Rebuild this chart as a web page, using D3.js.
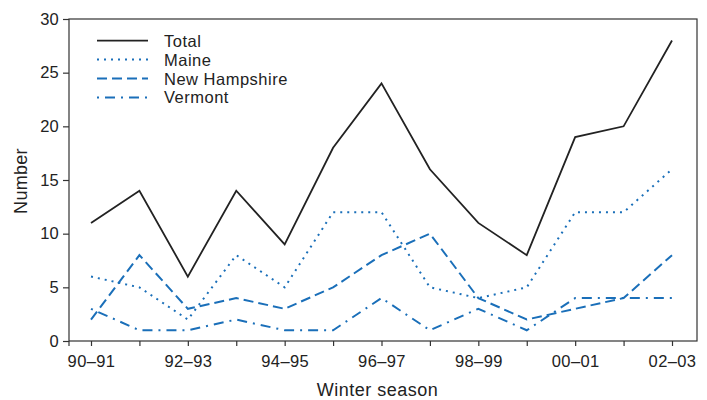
<!DOCTYPE html>
<html>
<head>
<meta charset="utf-8">
<script src="https://cdn.jsdelivr.net/npm/d3@7/dist/d3.min.js"></script>
<style>
  html, body { margin: 0; padding: 0; background: #fff; }
  svg { display: block; font-family: "Liberation Sans", Arial, sans-serif; }
</style>
</head>
<body>
<svg id="chart" width="707" height="400"></svg>
<script>
// Winter seasons, 1990–91 through 2002–03
const seasons = ["90–91", "91–92", "92–93", "93–94", "94–95", "95–96", "96–97",
                 "97–98", "98–99", "99–00", "00–01", "01–02", "02–03"];
const tickLabels = ["90–91", "92–93", "94–95", "96–97", "98–99", "00–01", "02–03"];
const yTicks = [0, 5, 10, 15, 20, 25, 30];

const total         = [11, 14, 6, 14, 9, 18, 24, 16, 11, 8, 19, 20, 28];
const maine         = [6, 5, 2, 8, 5, 12, 12, 5, 4, 5, 12, 12, 16];
const newHampshire  = [2, 8, 3, 4, 3, 5, 8, 10, 4, 2, 3, 4, 8];
const vermont       = [3, 1, 1, 2, 1, 1, 4, 1, 3, 1, 4, 4, 4];

const blue = "#1a6fb9";
const series = [
  { name: "Total",         values: total,        color: "#222", width: 1.8, dash: null },
  { name: "Maine",         values: maine,        color: blue,   width: 2,   dash: "2,5" },
  { name: "New Hampshire", values: newHampshire, color: blue,   width: 2,   dash: "10,5" },
  { name: "Vermont",       values: vermont,      color: blue,   width: 2,   dash: "2,6,10,6" }
];

const svg = d3.select("#chart");
const plot = { left: 69, right: 697, top: 19, bottom: 341 };

const x = d3.scalePoint().domain(seasons).range([plot.left + 22, plot.right - 25]);
const y = d3.scaleLinear().domain([0, 30]).range([plot.bottom, plot.top]);

const axisColor = "#333";
const textColor = "#222";

// Frame around the plot area
svg.append("rect")
  .attr("x", plot.left).attr("y", plot.top)
  .attr("width", plot.right - plot.left).attr("height", plot.bottom - plot.top)
  .attr("fill", "none").attr("stroke", axisColor).attr("stroke-width", 1.2);

// x axis: a tick for each season, labels on alternate seasons
const xAxis = d3.axisBottom(x).tickSize(5).tickPadding(9)
  .tickFormat(d => tickLabels.includes(d) ? d : "");
const gx = svg.append("g").attr("transform", `translate(0,${plot.bottom})`).call(xAxis);
gx.select(".domain").remove();
gx.append("line").attr("x1", plot.left).attr("x2", plot.left).attr("y1", 0).attr("y2", 5)
  .attr("stroke", axisColor).attr("stroke-width", 1.2);
gx.selectAll(".tick line").attr("stroke", axisColor).attr("stroke-width", 1.2);
gx.selectAll(".tick text").attr("fill", textColor)
  .style("font-size", "16.5px").style("letter-spacing", "0.4px");

// y axis
const yAxis = d3.axisLeft(y).tickValues(yTicks).tickSize(6).tickPadding(4);
const gy = svg.append("g").attr("transform", `translate(${plot.left},0)`).call(yAxis);
gy.select(".domain").remove();
gy.selectAll(".tick line").attr("stroke", axisColor).attr("stroke-width", 1.2);
gy.selectAll(".tick text").attr("fill", textColor)
  .style("font-size", "16.5px").style("letter-spacing", "0.2px");

// Axis titles
svg.append("text")
  .attr("x", 377.5).attr("y", 396)
  .attr("text-anchor", "middle").attr("fill", textColor)
  .style("font-size", "18px").style("letter-spacing", "0.5px")
  .text("Winter season");
svg.append("text")
  .attr("transform", `translate(27,181) rotate(-90)`)
  .attr("text-anchor", "middle").attr("fill", textColor)
  .style("font-size", "18px").style("letter-spacing", "0.3px")
  .text("Number");

// Series lines
const line = d3.line().x((d, i) => x(seasons[i])).y(d => y(d));
svg.append("g").selectAll("path")
  .data(series.slice().reverse())
  .join("path")
  .attr("d", d => line(d.values))
  .attr("fill", "none")
  .attr("stroke", d => d.color)
  .attr("stroke-width", d => d.width)
  .attr("stroke-dasharray", d => d.dash)
  .attr("stroke-linejoin", "miter");

// Legend
const legend = svg.append("g");
const rows = legend.selectAll("g").data(series).join("g")
  .attr("transform", (d, i) => `translate(97,${40.7 + i * 18.9})`);
rows.append("line")
  .attr("x1", 0).attr("x2", 51).attr("y1", 0).attr("y2", 0)
  .attr("stroke", d => d.color)
  .attr("stroke-width", d => d.width)
  .attr("stroke-dasharray", d => d.dash);
rows.append("text")
  .attr("x", 67).attr("y", 6)
  .attr("fill", textColor)
  .style("font-size", "16.5px").style("letter-spacing", "0.5px")
  .text(d => d.name);
</script>
</body>
</html>
